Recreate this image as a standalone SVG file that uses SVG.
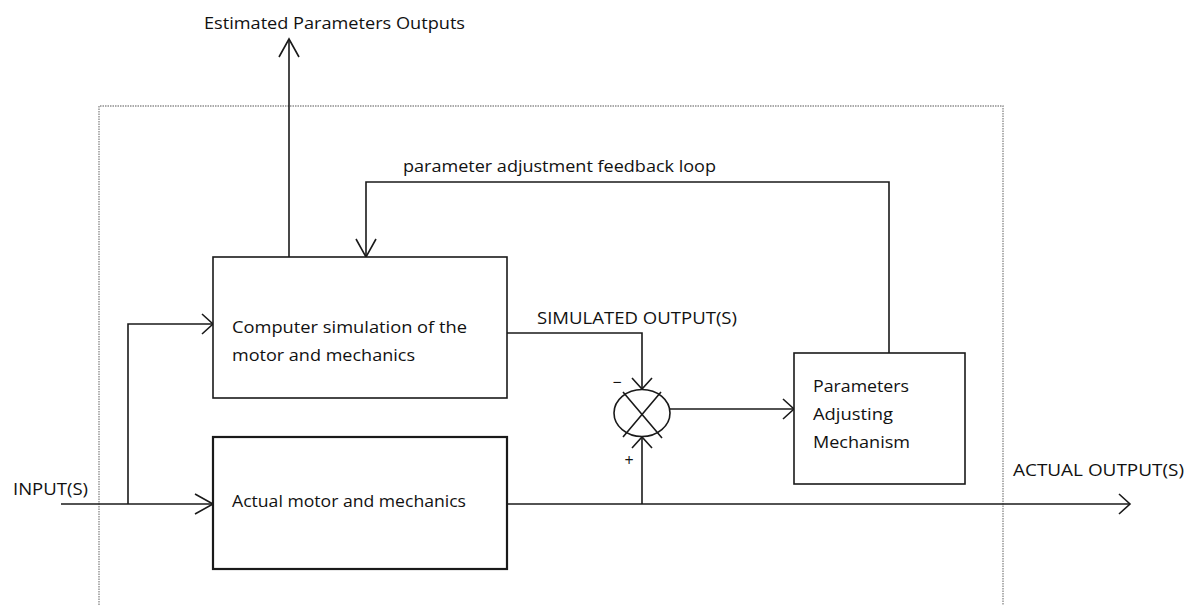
<svg xmlns="http://www.w3.org/2000/svg" width="1196" height="605" viewBox="0 0 1196 605">
  <style>
    .txt { font-family: "Open Sans", "Noto Sans", "Liberation Sans", sans-serif; font-size: 16px; fill: #111111; }
    .box { fill: #ffffff; stroke: #1a1a1a; stroke-width: 1.6; }
    .wire { fill: none; stroke: #1a1a1a; stroke-width: 1.6; }
    .frame { fill: none; stroke: #8f8f8f; stroke-width: 1.4; stroke-dasharray: 1.5 1; }
  </style>
  <defs>
    <marker id="arrowLong" markerUnits="userSpaceOnUse" markerWidth="40" markerHeight="40" refX="0" refY="0" orient="auto" overflow="visible">
      <path d="M-18,-10 L0,0 L-18,10" fill="none" stroke="#1a1a1a" stroke-width="1.6"/>
    </marker>
    <marker id="arrowShort" markerUnits="userSpaceOnUse" markerWidth="40" markerHeight="40" refX="0" refY="0" orient="auto" overflow="visible">
      <path d="M-11,-10 L0,0 L-11,10" fill="none" stroke="#1a1a1a" stroke-width="1.6"/>
    </marker>
  </defs>

  <rect width="1196" height="605" fill="#ffffff"/>

  <!-- system boundary -->
  <path class="frame" d="M99,605 V106 H1003 V605"/>

  <g id="connectors">
    <path class="wire" d="M61,504 H213" marker-end="url(#arrowLong)"/>
    <path class="wire" d="M128,504 V324 H213" marker-end="url(#arrowShort)"/>
    <path class="wire" d="M507,333 H642 V389" marker-end="url(#arrowShort)"/>
    <path class="wire" d="M507,504 H1130" marker-end="url(#arrowShort)"/>
    <path class="wire" d="M642,504 V437" marker-end="url(#arrowShort)"/>
    <path class="wire" d="M670,409 H794" marker-end="url(#arrowShort)"/>
    <path class="wire" d="M889,353 V182 H366 V257" marker-end="url(#arrowLong)"/>
    <path class="wire" d="M289,257 V39" marker-end="url(#arrowLong)"/>
  </g>

  <g id="labels">
    <text class="txt" x="204" y="29" textLength="261" lengthAdjust="spacingAndGlyphs">Estimated Parameters Outputs</text>
    <text class="txt" x="403" y="172" textLength="313" lengthAdjust="spacingAndGlyphs">parameter adjustment feedback loop</text>
    <text class="txt" x="537" y="324" textLength="200" lengthAdjust="spacingAndGlyphs">SIMULATED OUTPUT(S)</text>
    <text class="txt" x="13" y="495" textLength="75" lengthAdjust="spacingAndGlyphs">INPUT(S)</text>
    <text class="txt" x="1013" y="476" textLength="171" lengthAdjust="spacingAndGlyphs">ACTUAL OUTPUT(S)</text>
  </g>

  <g id="simulation">
    <rect class="box" x="213" y="257" width="294" height="141"/>
    <text class="txt" x="232" y="333" textLength="235" lengthAdjust="spacingAndGlyphs">Computer simulation of the</text>
    <text class="txt" x="232" y="361" textLength="183" lengthAdjust="spacingAndGlyphs">motor and mechanics</text>
  </g>

  <g id="actual">
    <rect class="box" x="213" y="437" width="294" height="132" style="stroke-width:2.2"/>
    <text class="txt" x="232" y="507" textLength="234" lengthAdjust="spacingAndGlyphs">Actual motor and mechanics</text>
  </g>

  <g id="summing">
    <ellipse cx="642" cy="413" rx="28" ry="23.5" fill="#ffffff" stroke="#1a1a1a" stroke-width="1.6"/>
    <path class="wire" d="M623,392 L662,438 M661,392 L623,437"/>
    <text class="txt" x="617" y="388" text-anchor="middle">−</text>
    <text class="txt" x="629" y="466" text-anchor="middle">+</text>
  </g>

  <g id="adjusting">
    <rect class="box" x="794" y="353" width="171" height="131"/>
    <text class="txt" x="813" y="392" textLength="96" lengthAdjust="spacingAndGlyphs">Parameters</text>
    <text class="txt" x="813" y="420" textLength="80" lengthAdjust="spacingAndGlyphs">Adjusting</text>
    <text class="txt" x="813" y="448" textLength="97" lengthAdjust="spacingAndGlyphs">Mechanism</text>
  </g>
</svg>
